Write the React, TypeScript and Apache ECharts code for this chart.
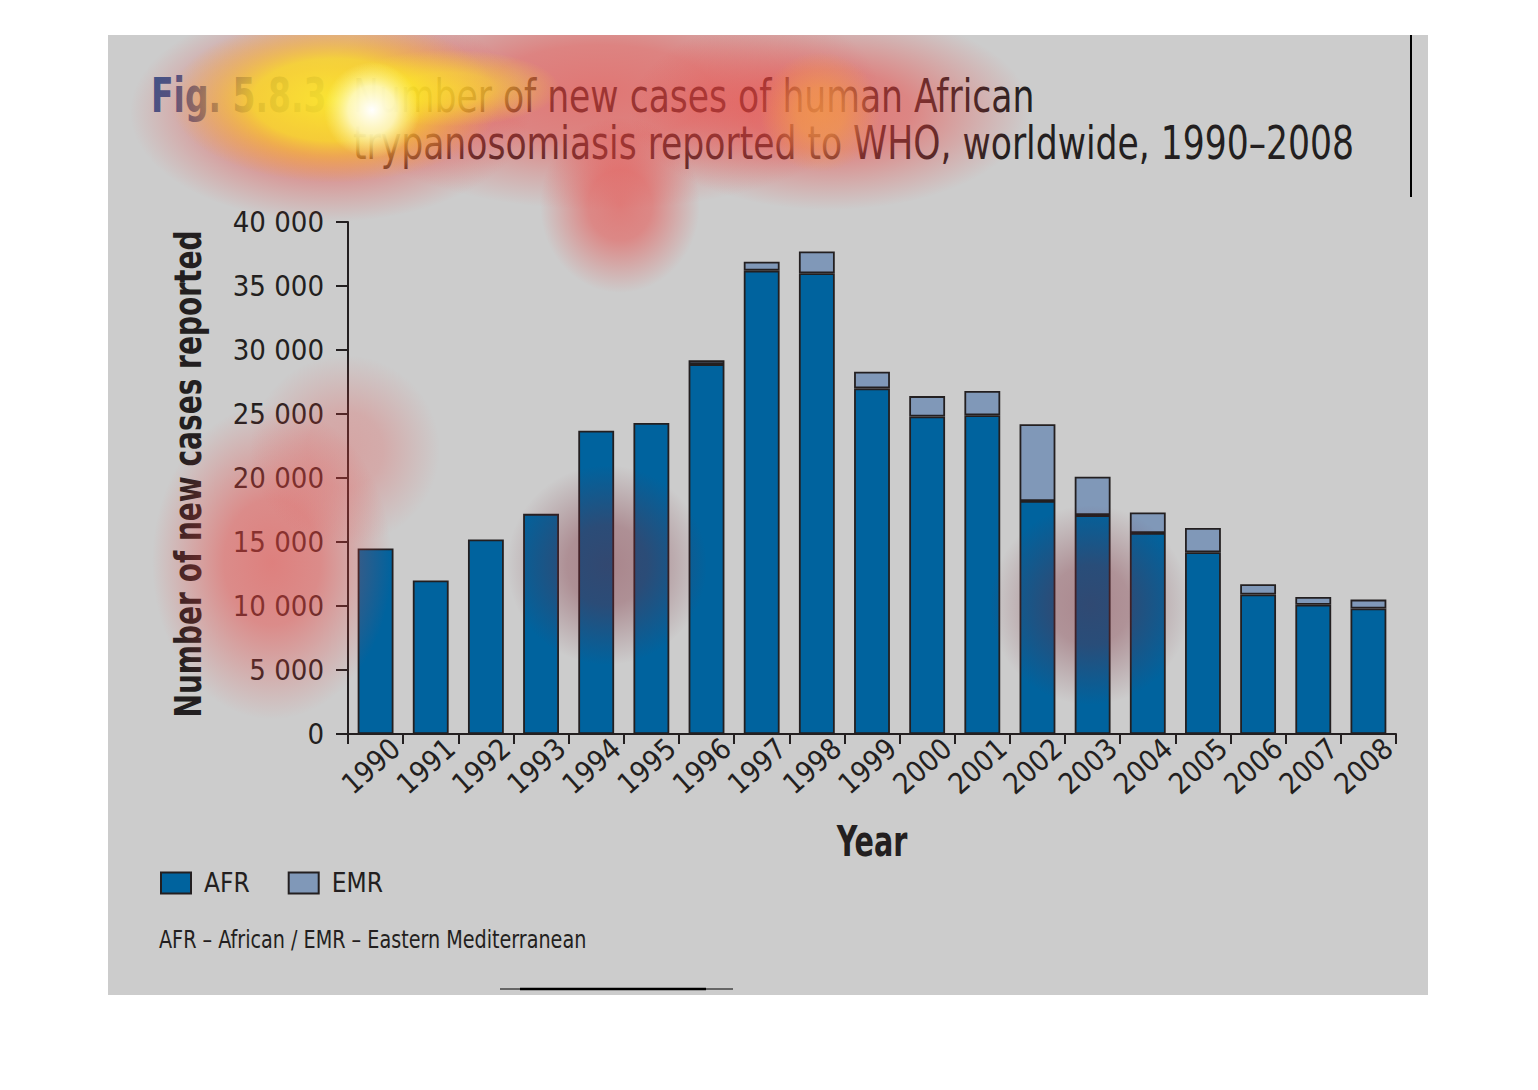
import React, { useEffect, useRef } from "react";
import * as echarts from "echarts";

const years = ["1990","1991","1992","1993","1994","1995","1996","1997","1998","1999","2000","2001","2002","2003","2004","2005","2006","2007","2008"];
const afrValues = [14500, 12000, 15200, 17200, 23700, 24300, 28900, 36200, 36000, 27000, 24800, 24900, 18200, 17100, 15700, 14200, 10900, 10100, 9800];
const emrValues = [null, null, null, null, null, null, 300, 700, 1700, 1300, 1600, 1900, 6000, 3000, 1600, 1900, 800, 600, 700];
const yTicks = { min: 0, max: 40000, interval: 5000 };

const titleFig = "Fig. 5.8.3";
const titleLine1 = "Number of new cases of human African";
const titleLine2 = "trypanosomiasis reported to WHO, worldwide, 1990–2008";
const yName = "Number of new cases reported";
const xName = "Year";
const footnote = "AFR – African / EMR – Eastern Mediterranean";

const FONT = "'DejaVu Sans Condensed', 'DejaVu Sans', sans-serif";
const INK = "#231f20";
const AFR_COLOR = "#00639e";
const EMR_COLOR = "#8098b8";

type Stop = [number, string];

function blob(cx: number, cy: number, r: number, sx: number, sy: number, stops: Stop[]) {
  return {
    type: "circle",
    x: cx,
    y: cy,
    scaleX: sx,
    scaleY: sy,
    z: 100,
    silent: true,
    shape: { cx: 0, cy: 0, r },
    style: {
      fill: {
        type: "radial", x: 0.5, y: 0.5, r: 0.5,
        colorStops: stops.map(([offset, color]) => ({ offset, color })),
      },
    },
  };
}

const tint = (rgb: string, a: number): Stop[] => [
  [0, `rgba(${rgb},${a})`],
  [0.4, `rgba(${rgb},${a * 0.85})`],
  [0.75, `rgba(${rgb},${a * 0.35})`],
  [1, `rgba(${rgb},0)`],
];
const RED = "236,66,62";
const DARK = "120,35,50";

function label(text: string, x: number, y: number, size: number, weight: string, scaleX: number, align: string, color = INK, rotation = 0) {
  return {
    type: "text",
    z: 5,
    silent: true,
    x,
    y,
    scaleX,
    rotation,
    style: {
      text,
      font: `${weight} ${size}px ${FONT}`,
      fill: color,
      align,
      verticalAlign: "middle",
    },
  };
}

function mask(x: number, y: number, width: number, height: number) {
  return { type: "rect", z: 101, silent: true, shape: { x, y, width, height }, style: { fill: "#ffffff" } };
}

export default function App() {
  const ref = useRef<HTMLDivElement>(null);
  useEffect(() => {
    if (!ref.current) return;
    const chart = echarts.init(ref.current, undefined, { renderer: "svg" });
    const fmt = (v: number) => (v >= 1000 ? `${Math.floor(v / 1000)} ${String(v % 1000).padStart(3, "0")}` : String(v));
    chart.setOption({
      animation: false,
      backgroundColor: "#ffffff",
      textStyle: { fontFamily: FONT },
      legend: {
        left: 160,
        top: 870,
        padding: 0,
        itemWidth: 30,
        itemHeight: 21,
        itemGap: 38,
        icon: "rect",
        textStyle: { fontFamily: FONT, fontSize: 26, color: INK, padding: [0, 0, 0, 8] },
        data: ["AFR", "EMR"],
      },
      grid: [
        { left: 348, right: 142, top: 222, bottom: 356 },
        { left: 368, right: 122, top: 222, bottom: 356 },
      ],
      xAxis: [
        {
          type: "category",
          gridIndex: 0,
          data: years,
          axisLine: { lineStyle: { color: INK, width: 2 } },
          axisTick: { show: true, length: 10, lineStyle: { color: INK, width: 2 } },
          axisLabel: { show: false },
        },
        {
          type: "category",
          gridIndex: 1,
          data: years,
          axisLine: { show: false },
          axisTick: { show: false },
          axisLabel: { show: true, rotate: 42, margin: 10, fontFamily: FONT, fontSize: 29, color: INK, interval: 0 },
        },
      ],
      yAxis: [
        {
          type: "value",
          gridIndex: 0,
          min: yTicks.min,
          max: yTicks.max,
          interval: yTicks.interval,
          axisLine: { show: true, lineStyle: { color: INK, width: 2 } },
          axisTick: { show: true, length: 12, lineStyle: { color: INK, width: 2 } },
          splitLine: { show: false },
          axisLabel: { margin: 24, fontFamily: FONT, fontSize: 29, color: INK, formatter: fmt },
        },
        { type: "value", gridIndex: 1, min: 0, max: 1, show: false },
      ],
      series: [
        {
          name: "AFR",
          type: "bar",
          stack: "total",
          xAxisIndex: 0,
          yAxisIndex: 0,
          barWidth: "65%",
          data: afrValues,
          itemStyle: { color: AFR_COLOR, borderColor: INK, borderWidth: 1.8 },
        },
        {
          name: "EMR",
          type: "bar",
          stack: "total",
          xAxisIndex: 0,
          yAxisIndex: 0,
          barWidth: "65%",
          data: emrValues,
          itemStyle: { color: EMR_COLOR, borderColor: INK, borderWidth: 1.8 },
        },
      ],
      graphic: [
        { type: "rect", z: -10, silent: true, shape: { x: 108, y: 35, width: 1320, height: 960 }, style: { fill: "#cccccc" } },
        { type: "line", z: 5, silent: true, shape: { x1: 1411, y1: 35, x2: 1411, y2: 197 }, style: { stroke: "#000", lineWidth: 2 } },
        { type: "line", z: 5, silent: true, shape: { x1: 500, y1: 989, x2: 733, y2: 989 }, style: { stroke: "#000", lineWidth: 1 } },
        { type: "line", z: 5, silent: true, shape: { x1: 520, y1: 989, x2: 706, y2: 989 }, style: { stroke: "#000", lineWidth: 2.5 } },
        label(titleFig, 151, 95, 48, "bold", 0.765, "left", "#36548c"),
        label(titleLine1, 353, 96, 47, "normal", 0.818, "left"),
        label(titleLine2, 353, 143, 47, "normal", 0.818, "left"),
        label(yName, 188, 474, 38, "bold", 0.82, "center", INK, Math.PI / 2),
        label(xName, 872, 841, 43, "bold", 0.74, "center"),
        label(footnote, 159, 939, 24.5, "normal", 0.87, "left"),
        // gaze heatmap overlay
        blob(600, 92, 280, 1, 0.42, tint(RED, 0.62)),
        blob(330, 112, 200, 1, 0.55, tint(RED, 0.68)),
        blob(830, 110, 200, 1, 0.5, tint(RED, 0.6)),
        blob(620, 205, 80, 1, 1.1, tint(RED, 0.58)),
        blob(272, 562, 150, 0.8, 1.05, tint(RED, 0.55)),
        blob(345, 450, 95, 1, 1, tint(RED, 0.28)),
        blob(607, 565, 100, 1, 1, tint(DARK, 0.42)),
        blob(1090, 605, 100, 1, 1, tint(DARK, 0.4)),
        blob(820, 112, 60, 1, 1, tint("245,160,70", 0.7)),
        blob(335, 100, 165, 1, 0.5, [[0, "rgba(255,250,40,0.85)"], [0.5, "rgba(255,240,30,0.7)"], [0.8, "rgba(255,200,40,0.3)"], [1, "rgba(255,180,40,0)"]]),
        blob(450, 88, 110, 1, 0.35, tint("255,240,40", 0.6)),
        blob(372, 110, 48, 1, 1, [[0, "rgba(255,255,255,1)"], [0.5, "rgba(255,255,220,0.75)"], [1, "rgba(255,255,150,0)"]]),
        // page margins outside the grey panel
        mask(0, 0, 1538, 35),
        mask(0, 0, 108, 1090),
        mask(1428, 0, 110, 1090),
        mask(0, 995, 1538, 95),
      ],
    });
    return () => chart.dispose();
  }, []);
  return <div ref={ref} style={{ position: "absolute", left: 0, top: 0, width: 1538, height: 1090 }} />;
}
